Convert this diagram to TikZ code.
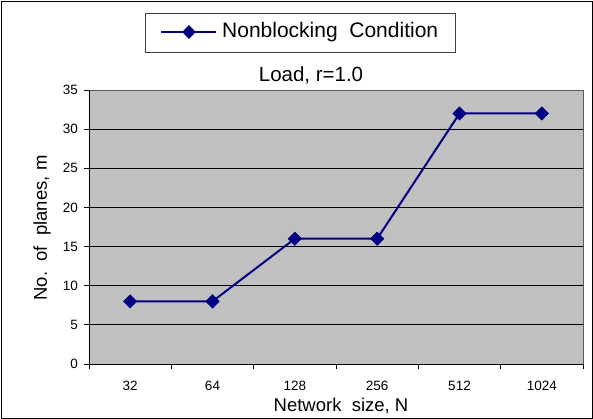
\documentclass[tikz,border=0pt]{standalone}
\usepackage{fontspec}
\setmainfont{Liberation Sans}
\usetikzlibrary{shapes.geometric}
\definecolor{navyline}{HTML}{000080}
\definecolor{plotbg}{HTML}{C0C0C0}
\begin{document}
\begin{tikzpicture}[x=1pt,y=-1pt,
  grid/.style={black,line width=0.8pt},
  tick/.style={black,line width=0.8pt},
  ticklbl/.style={font=\fontsize{13.5}{15}\selectfont,inner sep=0pt},
  series/.style={navyline,line width=2pt},
  mk/.style={diamond,fill=navyline,inner sep=0pt,minimum width=14pt,minimum height=14pt},
  lbl/.style={font=\fontsize{18.5}{21}\selectfont,inner sep=0pt}]
\useasboundingbox (0,0) rectangle (593,419);
\draw[black,line width=0.8pt] (1,1) rectangle (592,418);
% plot area
\fill[plotbg] (89,90) rectangle (583,364);
\foreach \v in {5,10,...,30} {
  \draw[grid] (89,{364-\v*274/35}) -- (583,{364-\v*274/35});
}
\draw[gray!70!black,line width=0.8pt] (89,90) rectangle (583,364);
\draw[tick] (89,90) -- (89,369);
\draw[tick] (84,364) -- (583,364);
\foreach \v in {0,5,...,35} {
  \draw[tick] (84,{364-\v*274/35}) -- (89,{364-\v*274/35});
  \node[ticklbl,anchor=east] at (78,{364-\v*274/35}) {\v};
}
\foreach \i in {0,...,6} {
  \draw[tick] ({89+\i*494/6},364) -- ({89+\i*494/6},369);
}
\foreach \i/\t in {0/32,1/64,2/128,3/256,4/512,5/1024} {
  \node[ticklbl] at ({89+(\i+0.5)*494/6},386) {\t};
}
% data
\node[mk] (p1) at ({89+0.5*494/6},{364-8*274/35}) {};
\node[mk] (p2) at ({89+1.5*494/6},{364-8*274/35}) {};
\node[mk] (p3) at ({89+2.5*494/6},{364-16*274/35}) {};
\node[mk] (p4) at ({89+3.5*494/6},{364-16*274/35}) {};
\node[mk] (p5) at ({89+4.5*494/6},{364-32*274/35}) {};
\node[mk] (p6) at ({89+5.5*494/6},{364-32*274/35}) {};
\draw[series] (p1.center) -- (p2.center) -- (p3.center) -- (p4.center) -- (p5.center) -- (p6.center);
\foreach \p in {p1,p2,p3,p4,p5,p6} { \node[mk] at (\p) {}; }
% labels
\node[lbl,font=\fontsize{20.5}{23}\selectfont] (title) at (311,75) {Load, r=1.0};
\node[lbl] (xlab) at (341,406) {Network\ \ size, N};
\node[lbl,rotate=90] (ylab) at (42,228) {No.\ \ of\ \ planes, m};
% legend
\draw[black!75,line width=0.8pt] (145,13) rectangle (455,52);
\coordinate (la) at (161,32);
\coordinate (lb) at (216,32);
\draw[series] (la) -- (lb);
\node[mk] (lm) at (189,32) {};
\node[font=\fontsize{21}{23}\selectfont,inner sep=0pt,anchor=west] (legtxt) at (222,32) {Nonblocking\ \ Condition};
\end{tikzpicture}
\end{document}
